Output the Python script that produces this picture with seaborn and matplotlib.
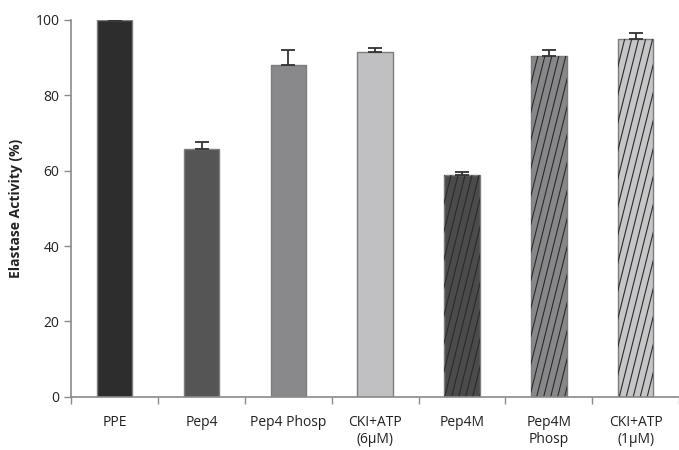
import numpy as np
import pandas as pd
import matplotlib
matplotlib.use("Agg")
import matplotlib.pyplot as plt
import seaborn as sns
from matplotlib.lines import Line2D

# data
groups = ["PPE", "Pep4", "Pep4 Phosp", "CKI+ATP\n(6µM)", "Pep4M", "Pep4M\nPhosp", "CKI+ATP\n(1µM)"]
activity = [100.0, 65.8, 88.1, 91.4, 58.9, 90.5, 95.0]
err_up = [0.0, 1.9, 4.0, 1.2, 0.7, 1.4, 1.4]
hatched = [False, False, False, False, True, True, True]
colors = ["#2d2d2d", "#555556", "#89898b", "#c0c0c2", "#4b4b4c", "#87878a", "#c6c6c8"]

df = pd.DataFrame({"group": groups, "activity": activity})

sns.set_style("white")
plt.rcParams["font.family"] = ["Open Sans", "DejaVu Sans"]

fig = plt.figure(figsize=(6.79, 4.5), dpi=100)
ax = fig.add_axes([0.105, 0.118, 0.895, 0.838])

sns.barplot(data=df, x="group", y="activity", hue="group", palette=colors,
            width=0.41, edgecolor="#7d7d7d", linewidth=1.0, legend=False, ax=ax)

# error bars (upper only)
xs = np.arange(len(groups))
ax.errorbar(xs, activity, yerr=[np.zeros(len(err_up)), err_up], fmt="none",
            ecolor="#333333", elinewidth=1.3, capsize=5, capthick=1.3)

# steep diagonal hatch, clipped to the bar shapes
bars = [p for p in ax.patches]
for patch, h in zip(bars, hatched):
    if not h:
        continue
    x0 = patch.get_x()
    w, ht = patch.get_width(), patch.get_height()
    slope = 4.0 * (100 / 377) / (1 / 87)  # data units: steep lines ~76 deg
    step = 7 / 87
    k = x0 - ht / slope
    while k < x0 + w:
        ln = Line2D([k, k + 110 / slope], [0, 110], color="#2a2a2a", lw=0.8, zorder=patch.get_zorder() + 0.1)
        ax.add_line(ln)
        ln.set_clip_path(patch)
        k += step

ax.set_ylim(0, 100)
ax.set_xlim(-0.5, len(groups) - 0.5)
ax.set_yticks([0, 20, 40, 60, 80, 100])
ax.set_xlabel("")
ax.set_ylabel("Elastase Activity (%)", fontsize=10, fontweight="bold", color="#222222", labelpad=9)

ax.set_xticks(xs)
ax.set_xticks(np.arange(len(groups) + 1) - 0.5, minor=True)
ax.tick_params(axis="x", which="major", length=0, pad=13, labelsize=10, colors="#222222")
ax.tick_params(axis="x", which="minor", length=5, width=1, color="#8a8a8a", direction="out", bottom=True)
ax.tick_params(axis="y", length=5, width=1, color="#8a8a8a", direction="out", left=True,
               labelsize=10, labelcolor="#222222")

for s in ["top", "right"]:
    ax.spines[s].set_visible(False)
for s in ["left", "bottom"]:
    ax.spines[s].set_color("#8a8a8a")
    ax.spines[s].set_linewidth(1.2)

fig.savefig("out.png", dpi=100)
